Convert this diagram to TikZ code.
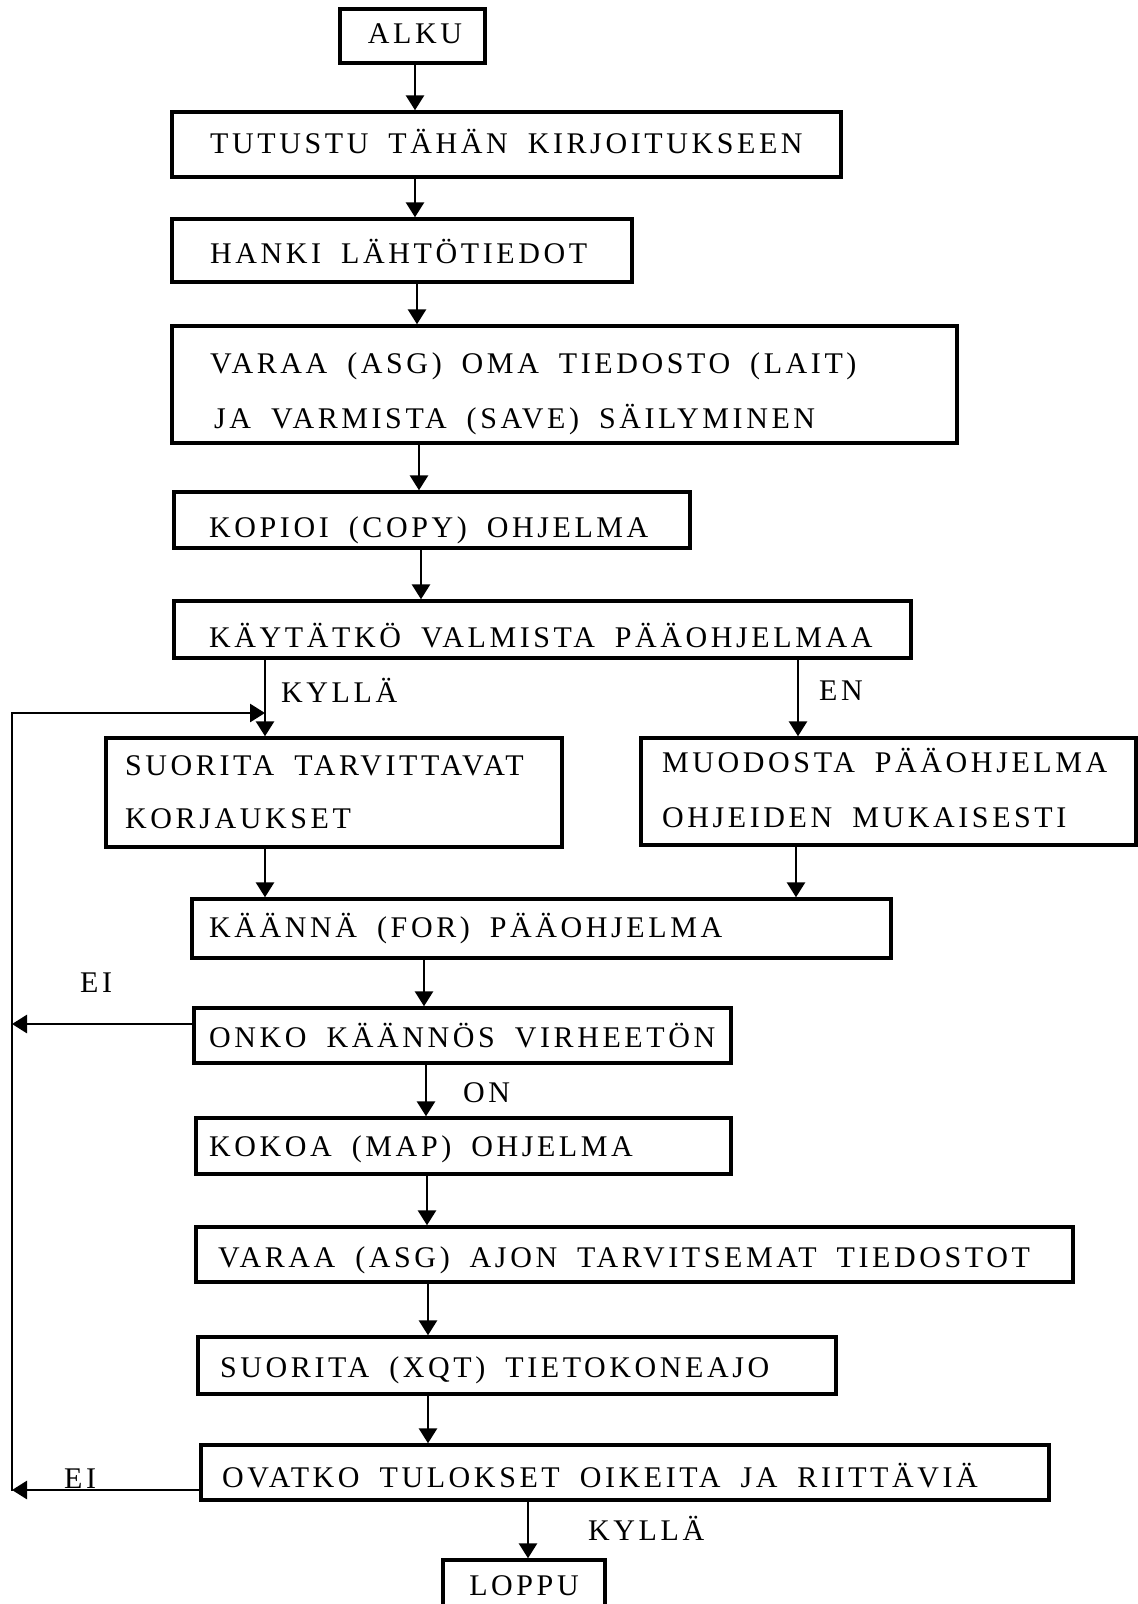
\documentclass[tikz,border=0pt]{standalone}
\usepackage{fontspec}
\setmainfont{Liberation Serif}[LetterSpace=12,WordSpace=1.8]
\usetikzlibrary{arrows.meta,fit}
\tikzset{
  box/.style={draw, line width=3.4pt, inner sep=0pt},
  txt/.style={font=\fontsize{30}{36}\selectfont, inner sep=0pt, anchor=base west},
  ctxt/.style={font=\fontsize{30}{36}\selectfont, inner sep=0pt, anchor=base},
  arr/.style={line width=2.8pt, -{Triangle[length=15pt,width=18pt]}},
  ln/.style={line width=2.8pt},
}
\newcommand\vconn[3]{\coordinate (#1#2x) at (#3,0); \draw[arr] (#1.south -| #1#2x) -- (#2.north -| #1#2x);}
\begin{document}
\begin{tikzpicture}[x=1pt,y=-1pt]
\path[fill=white,use as bounding box] (0,0) rectangle (1138,1604);
% boxes
\node[box, fit={(340,9) (485,63)}] (alku) {};
\node[box, fit={(172,112) (841,177)}] (tut) {};
\node[box, fit={(172,219) (632,282)}] (hanki) {};
\node[box, fit={(172,326) (957,443)}] (varaa) {};
\node[box, fit={(174,492) (690,548)}] (kopioi) {};
\node[box, fit={(174,601) (911,658)}] (kayt) {};
\node[box, fit={(106,738) (562,847)}] (suor) {};
\node[box, fit={(641,738) (1136,845)}] (muod) {};
\node[box, fit={(192,899) (891,958)}] (kaan) {};
\node[box, fit={(194,1008) (731,1063)}] (onko) {};
\node[box, fit={(196,1118) (731,1174)}] (kokoa) {};
\node[box, fit={(196,1227) (1073,1282)}] (asg) {};
\node[box, fit={(198,1337) (836,1394)}] (xqt) {};
\node[box, fit={(201,1445) (1049,1500)}] (ovat) {};
\node[box, fit={(443,1560) (605,1650)}] (loppu) {};
% texts
\node[ctxt] (talku) at (415,43) {ALKU};
\node[txt] (ttut) at (210,153) {TUTUSTU TÄHÄN KIRJOITUKSEEN};
\node[txt] (thanki) at (210,263) {HANKI LÄHTÖTIEDOT};
\node[txt] (tvaraa1) at (210,373) {VARAA (ASG) OMA TIEDOSTO (LAIT)};
\node[txt] (tvaraa2) at (214,428) {JA VARMISTA (SAVE) SÄILYMINEN};
\node[txt] (tkopioi) at (209,537) {KOPIOI (COPY) OHJELMA};
\node[txt] (tkayt) at (209,647) {KÄYTÄTKÖ VALMISTA PÄÄOHJELMAA};
\node[txt] (tsuor1) at (125,775) {SUORITA TARVITTAVAT};
\node[txt] (tsuor2) at (125,828) {KORJAUKSET};
\node[txt] (tmuod1) at (662,772) {MUODOSTA PÄÄOHJELMA};
\node[txt] (tmuod2) at (662,827) {OHJEIDEN MUKAISESTI};
\node[txt] (tkaan) at (209,937) {KÄÄNNÄ (FOR) PÄÄOHJELMA};
\node[txt] (tonko) at (209,1047) {ONKO KÄÄNNÖS VIRHEETÖN};
\node[txt] (tkokoa) at (209,1156) {KOKOA (MAP) OHJELMA};
\node[txt] (tasg) at (218,1267) {VARAA (ASG) AJON TARVITSEMAT TIEDOSTOT};
\node[txt] (txqt) at (220,1377) {SUORITA (XQT) TIETOKONEAJO};
\node[txt] (tovat) at (222,1487) {OVATKO TULOKSET OIKEITA JA RIITTÄVIÄ};
\node[ctxt] (tloppu) at (524,1595) {LOPPU};
% labels
\node[txt] (lkylla1) at (281,702) {KYLLÄ};
\node[txt] (len) at (819,700) {EN};
\node[txt] (lei1) at (80,992) {EI};
\node[txt] (lon) at (463,1102) {ON};
\node[txt] (lei2) at (64,1488) {EI};
\node[txt] (lkylla2) at (588,1540) {KYLLÄ};
% connectors
\vconn{alku}{tut}{415}
\vconn{tut}{hanki}{415}
\vconn{hanki}{varaa}{417}
\vconn{varaa}{kopioi}{419}
\vconn{kopioi}{kayt}{421}
\vconn{kayt}{suor}{265}
\vconn{kayt}{muod}{798}
\vconn{suor}{kaan}{265}
\vconn{muod}{kaan}{796}
\vconn{kaan}{onko}{424}
\vconn{onko}{kokoa}{426}
\vconn{kokoa}{asg}{427}
\vconn{asg}{xqt}{428}
\vconn{xqt}{ovat}{428}
\vconn{ovat}{loppu}{528}
% loop back
\coordinate (lpb) at (12,1490);
\coordinate (lpo) at (12,1024);
\coordinate (lpt) at (12,713);
\coordinate (lpj) at (265,713);
\draw[arr] (ovat.west |- lpb) -- (lpb);
\draw[arr] (onko.west |- lpo) -- (lpo);
\draw[ln, line cap=rect] (lpb) -- (lpt);
\draw[arr] (lpt) -- (lpj);
\end{tikzpicture}
\end{document}
